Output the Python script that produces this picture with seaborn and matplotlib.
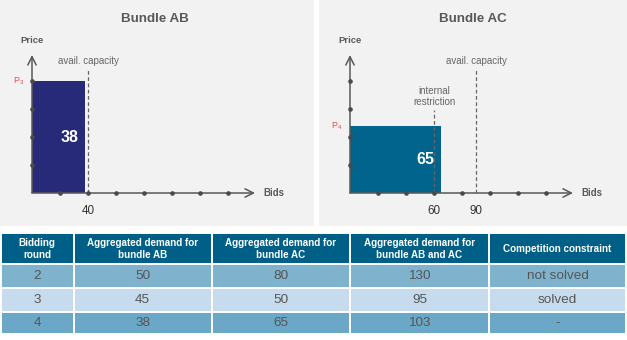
import matplotlib
matplotlib.use("Agg")
import matplotlib.pyplot as plt
from matplotlib.patches import Rectangle
import seaborn as sns
import pandas as pd

# --- chart data -------------------------------------------------------------
bundles = ["Bundle AB", "Bundle AC"]
bid_volume = [38, 65]            # bids placed in the last round
price_level = [4.0, 2.4]         # price reached (axis grid units)
price_labels = ["P_3", "P_4"]
avail_capacity = [40, 90]
internal_restriction = [None, 60]
x_tick_labels = [[40], [60, 90]]
bid_grid = [20, 40, 60, 80, 100, 120, 140]
price_grid = [1, 2, 3, 4]

# --- table data -------------------------------------------------------------
table_headers = ["Bidding\nround",
                 "Aggregated demand for\nbundle AB",
                 "Aggregated demand for\nbundle AC",
                 "Aggregated demand for\nbundle AB and AC",
                 "Competition constraint"]
bidding_round = [2, 3, 4]
demand_ab = [50, 45, 38]
demand_ac = [80, 50, 65]
demand_total = [130, 95, 103]
competition = ["not solved", "solved", "-"]

sns.set_theme(style="white")
plt.rcParams["font.family"] = ["Liberation Sans", "DejaVu Sans"]
plt.rcParams["mathtext.fontset"] = "custom"
plt.rcParams["mathtext.rm"] = "Liberation Sans"
plt.rcParams["mathtext.it"] = "Liberation Sans"

W, H = 627, 340
fig = plt.figure(figsize=(W / 100, H / 100), dpi=100, facecolor="white")


def px_axes(x0, y0, x1, y1):
    """Axes placed by a pixel box measured from the top-left corner."""
    return fig.add_axes([x0 / W, 1 - y1 / H, (x1 - x0) / W, (y1 - y0) / H])


AXIS_C = "#595959"
DOT_C = "#4a4a4a"
PX_PER_BID = 1.4      # 20 bids per 28 px
PX_PER_PRICE = 28.0


def draw_bundle(box, origin_px, title, vol, price, plabel, cap, restr, ticks, color):
    x0, y0, x1, y1 = box
    ox, oy = origin_px
    ax = px_axes(x0, y0, x1, y1)
    ax.set_facecolor("#f2f2f2")
    ax.set_xlim(-(ox - x0) / PX_PER_BID, (x1 - ox) / PX_PER_BID)
    ax.set_ylim(-(y1 - oy) / PX_PER_PRICE, (oy - y0) / PX_PER_PRICE)
    ax.set_xticks([])
    ax.set_yticks([])
    for s in ax.spines.values():
        s.set_visible(False)

    # demand block
    ax.bar(0, price, width=vol, align="edge", color=color, zorder=2, linewidth=0)

    # axes with open arrow heads
    arrow = dict(arrowstyle="->,head_length=0.5,head_width=0.25", color=AXIS_C,
                 lw=1.1, shrinkA=0, shrinkB=0)
    ax.annotate("", xy=(159.3, 0), xytext=(0, 0), arrowprops=arrow, zorder=3)
    ax.annotate("", xy=(0, 4.93), xytext=(0, 0), arrowprops=arrow, zorder=3)

    # grid dots on both axes
    dots = pd.DataFrame({"x": bid_grid + [0] * len(price_grid),
                         "y": [0] * len(bid_grid) + price_grid})
    sns.scatterplot(data=dots, x="x", y="y", ax=ax, color=DOT_C, s=11,
                    linewidth=0, legend=False, zorder=4)

    # capacity markers
    ax.vlines(cap, 0, 4.45, colors="#666666", linestyles=(0, (3, 2)), lw=0.9, zorder=3)
    ax.text(cap, 4.71, "avail. capacity", ha="center", va="center",
            fontsize=7.0, color="#666666")
    if restr is not None:
        ax.vlines(restr, 0, 2.96, colors="#666666", linestyles=(0, (3, 2)), lw=0.9, zorder=3)
        ax.text(restr, 3.44, "internal\nrestriction", ha="center", va="center",
                fontsize=7.0, color="#666666", linespacing=1.2)

    # labels
    ax.text(87.5, 6.21, title, ha="center", va="center", fontsize=9.6,
            fontweight="bold", color=AXIS_C)
    ax.text(0, 5.46, "Price", ha="center", va="center", fontsize=6.8,
            fontweight="bold", color=AXIS_C)
    ax.text(165, 0, "Bids", ha="left", va="center", fontsize=6.9,
            fontweight="bold", color=AXIS_C)
    ax.text(-5.5, price, r"$\mathregular{%s}$" % plabel, ha="right", va="center",
            fontsize=6.4, color="#f04848")
    ax.text(vol - 11.5, price / 2, str(vol), ha="center", va="center",
            fontsize=11.5, fontweight="bold", color="white", zorder=5)
    for t in ticks:
        ax.text(t, -0.64, str(t), ha="center", va="center", fontsize=8.4,
                color="#333333")


draw_bundle((0, 0, 314, 226), (32, 193), bundles[0], bid_volume[0], price_level[0],
            price_labels[0], avail_capacity[0], internal_restriction[0],
            x_tick_labels[0], "#262a78")
draw_bundle((319, 0, 627, 226), (350, 193), bundles[1], bid_volume[1], price_level[1],
            price_labels[1], avail_capacity[1], internal_restriction[1],
            x_tick_labels[1], "#00648c")

# --- results table ----------------------------------------------------------
tax = px_axes(0, 226, 627, 340)
tax.set_xlim(0, 627)
tax.set_ylim(340, 226)
tax.axis("off")

col_edges = [1, 73.5, 212, 350, 489, 626]
row_edges = [233, 264, 288, 311.5, 334]
row_fill = ["#005f87", "#7fb3cd", "#c6dcee", "#6ba8c7"]
rows = [[str(r), str(a), str(c), str(t), k]
        for r, a, c, t, k in zip(bidding_round, demand_ab, demand_ac, demand_total, competition)]

for ri in range(4):
    ya, yb = row_edges[ri], row_edges[ri + 1]
    for ci in range(5):
        xa, xb = col_edges[ci], col_edges[ci + 1]
        tax.add_patch(Rectangle((xa, ya), xb - xa, yb - ya, facecolor=row_fill[ri],
                                edgecolor="white", lw=1.4))
        xc, yc = (xa + xb) / 2, (ya + yb) / 2
        if ri == 0:
            tax.text(xc, yc, table_headers[ci], ha="center", va="center",
                     fontsize=7.1, fontweight="bold", color="white", linespacing=1.25)
        else:
            tax.text(xc, yc, rows[ri - 1][ci], ha="center", va="center",
                     fontsize=9.7, color="#555555")

fig.savefig("out.png", dpi=100, facecolor="white")
